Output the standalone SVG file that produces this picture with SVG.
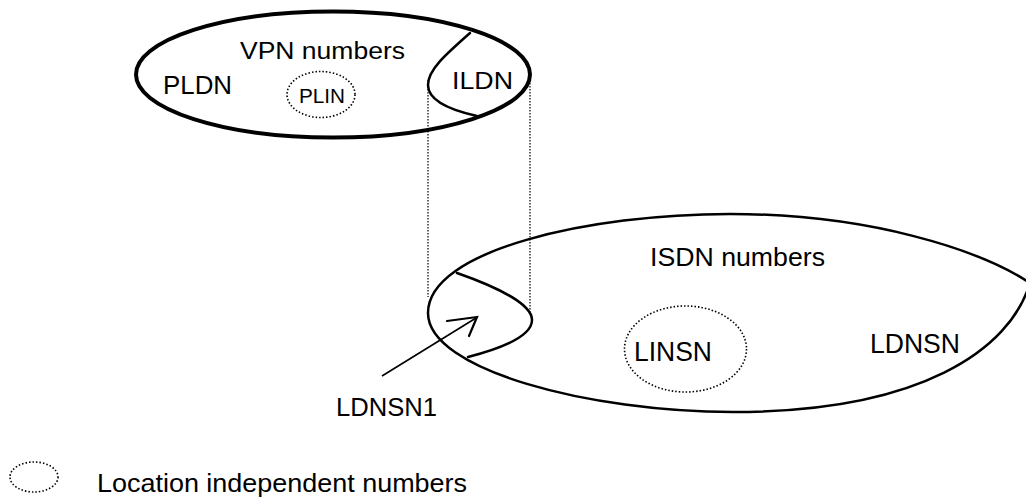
<svg xmlns="http://www.w3.org/2000/svg" width="1026" height="504" viewBox="0 0 1026 504">
<style>
  text { font-family: "Liberation Sans", Arial, sans-serif; fill: #000; }
  .thick { fill: none; stroke: #000; stroke-width: 4; }
  .line { fill: none; stroke: #000; stroke-width: 2.5; stroke-linecap: round; }
  .dots { fill: none; stroke: #000; stroke-width: 1.6; stroke-dasharray: 1.5 2; }
  .guide { fill: none; stroke: #000; stroke-width: 1.2; stroke-dasharray: 1.5 1.5; }
</style>
<rect width="1026" height="504" fill="#fff"/>
<g id="vpn">
  <ellipse class="thick" cx="333" cy="74.5" rx="197" ry="63"/>
  <text x="240" y="59" font-size="23" textLength="165" lengthAdjust="spacingAndGlyphs">VPN numbers</text>
  <text x="163" y="94" font-size="26" textLength="69" lengthAdjust="spacingAndGlyphs">PLDN</text>
</g>
<g id="ildn">
  <path class="line" d="M470,33 C445,55 428,70 428,85 C428,100 450,110 477,116"/>
  <text x="452" y="89" font-size="24" textLength="61" lengthAdjust="spacingAndGlyphs">ILDN</text>
</g>
<g id="plin">
  <ellipse class="dots" cx="321" cy="94.5" rx="34" ry="23"/>
  <text x="299" y="103" font-size="21" textLength="46" lengthAdjust="spacingAndGlyphs">PLIN</text>
</g>
<g id="isdn">
  <path class="line" d="M428,313 C428,250 590,214 730,214 C870,214 980,250 1030,283 C1010,350 920,412 733,412 C590,412 428,370 428,313 Z"/>
  <text x="650" y="266" font-size="25" textLength="175" lengthAdjust="spacingAndGlyphs">ISDN numbers</text>
  <text x="870" y="353" font-size="27" textLength="90" lengthAdjust="spacingAndGlyphs">LDNSN</text>
</g>
<g id="ldnsn1">
  <path class="line" d="M457,273 C500,288 532,305 532,320 C532,338 495,350 468,357"/>
  <text x="336" y="416" font-size="26" textLength="101" lengthAdjust="spacingAndGlyphs">LDNSN1</text>
</g>
<g id="linsn">
  <ellipse class="dots" cx="685.5" cy="349" rx="61" ry="43"/>
  <text x="634" y="361" font-size="27" textLength="78" lengthAdjust="spacingAndGlyphs">LINSN</text>
</g>
<g id="legend">
  <ellipse class="dots" cx="34" cy="477" rx="24" ry="15"/>
  <text x="97" y="492" font-size="25" textLength="370" lengthAdjust="spacingAndGlyphs">Location independent numbers</text>
</g>
<g id="connectors">
  <line class="guide" x1="428" y1="80" x2="428" y2="297"/>
  <line class="guide" x1="530" y1="77" x2="530" y2="313"/>
  <line x1="382" y1="376" x2="476" y2="318" stroke="#000" stroke-width="1.6"/>
  <polyline points="447,321 477,317 469,336" fill="none" stroke="#000" stroke-width="2.2" stroke-linecap="round" stroke-linejoin="miter"/>
</g>
</svg>
